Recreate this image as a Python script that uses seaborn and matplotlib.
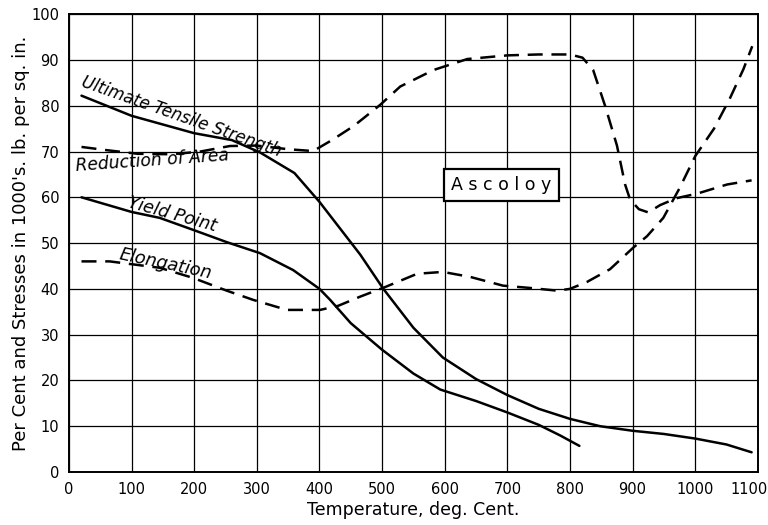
import matplotlib
matplotlib.use("Agg")
import matplotlib.pyplot as plt
import matplotlib.transforms as mtransforms
import numpy as np
import pandas as pd
import seaborn as sns

# values (temperature deg C, value)
uts_t = [20, 100, 200, 260, 305, 360, 400, 465, 502, 550, 597, 650, 700, 750, 800, 848, 900, 950, 1000, 1050, 1090]
uts_v = [82.2, 77.8, 74.0, 72.5, 69.8, 65.3, 59.0, 47.5, 40.0, 31.5, 25.0, 20.3, 16.8, 13.8, 11.6, 10.0, 9.0, 8.3, 7.3, 6.0, 4.3]

yield_t = [20, 100, 145, 200, 252, 305, 358, 400, 417, 450, 500, 550, 593, 650, 700, 750, 784, 815]
yield_v = [60.0, 56.8, 55.5, 52.8, 50.2, 47.8, 44.1, 40.0, 37.6, 32.5, 26.7, 21.5, 18.0, 15.5, 13.0, 10.3, 8.0, 5.7]

red_t = [20, 60, 110, 165, 210, 257, 300, 350, 390, 420, 455, 497, 529, 582, 636, 700, 750, 800, 820, 837,
         856, 875, 888, 896, 910, 925, 944, 970, 1003, 1051, 1090]
red_v = [71.0, 70.3, 69.5, 69.4, 70.0, 71.2, 71.3, 70.5, 70.1, 72.5, 75.6, 80.2, 84.2, 87.8, 90.2, 91.0, 91.2, 91.2, 90.5, 87.8,
         80.0, 71.3, 62.8, 59.5, 57.4, 56.7, 58.3, 59.8, 60.8, 62.8, 63.7]

elong_t = [20, 65, 145, 198, 252, 294, 348, 401, 430, 465, 505, 556, 597, 641, 693, 736, 780, 800, 827,
           864, 901, 923, 949, 975, 1000, 1030, 1055, 1077, 1091]
elong_v = [46.0, 46.0, 44.6, 42.4, 39.6, 37.6, 35.4, 35.4, 36.3, 38.3, 40.4, 43.3, 43.7, 42.6, 40.7, 40.2, 39.6, 40.0, 41.5,
           44.3, 49.0, 51.5, 55.5, 62.0, 69.0, 75.0, 81.5, 88.0, 93.0]

x_ticks = list(range(0, 1101, 100))
y_ticks = list(range(0, 101, 10))

sns.set_style("white")
plt.rcParams["font.family"] = ["DejaVu Sans"]
plt.rcParams["text.color"] = "black"

fig = plt.figure(figsize=(7.68, 5.25), dpi=100)
ax = fig.add_axes([0.0898, 0.101, 0.897, 0.872])

line_kw = dict(color="black", lw=1.8, estimator=None, sort=False, ax=ax)

sns.lineplot(x=uts_t, y=uts_v, **line_kw)
sns.lineplot(x=yield_t, y=yield_v, **line_kw)
sns.lineplot(x=red_t, y=red_v, **line_kw)
ax.lines[-1].set_dashes((6, 3.5))
sns.lineplot(x=elong_t, y=elong_v, **line_kw)
ax.lines[-1].set_dashes((6, 3.5))

ax.set_xlim(0, 1100)
ax.set_ylim(0, 100)
ax.set_xticks(x_ticks)
ax.set_yticks(y_ticks)
ax.grid(True, color="black", lw=0.9)
ax.set_axisbelow(True)
for s in ax.spines.values():
    s.set_color("black")
    s.set_linewidth(1.4)
ax.tick_params(length=0, labelsize=10.5, pad=7, labelcolor="black")
# nudge the last x label left so it stays inside the picture
last = ax.get_xticklabels()[-1]
last.set_transform(last.get_transform() + mtransforms.ScaledTranslation(-0.09, 0, fig.dpi_scale_trans))

ax.set_xlabel("Temperature, deg. Cent.", fontsize=12.5, labelpad=3, color="black")
ax.set_ylabel("Per Cent and Stresses in 1000's. lb. per sq. in.", fontsize=13, labelpad=1, color="black")

lbl = dict(style="italic", ha="center", va="center", color="black")
ax.text(180, 77.6, "Ultimate Tensile Strength", rotation=-19.5, fontsize=12, **lbl)
ax.text(133, 67.9, "Reduction of Area", rotation=4, fontsize=12.3, **lbl)
ax.text(165, 56.3, "Yield Point", rotation=-15.5, fontsize=12.5, **lbl)
ax.text(155, 45.4, "Elongation", rotation=-12, fontsize=12.8, **lbl)

ax.text(690, 62.7, "A s c o l o y", fontsize=12.5, ha="center", va="center", color="black",
        bbox=dict(boxstyle="square,pad=0.42", fc="white", ec="black", lw=1.6))

fig.savefig("out.png", dpi=100)
